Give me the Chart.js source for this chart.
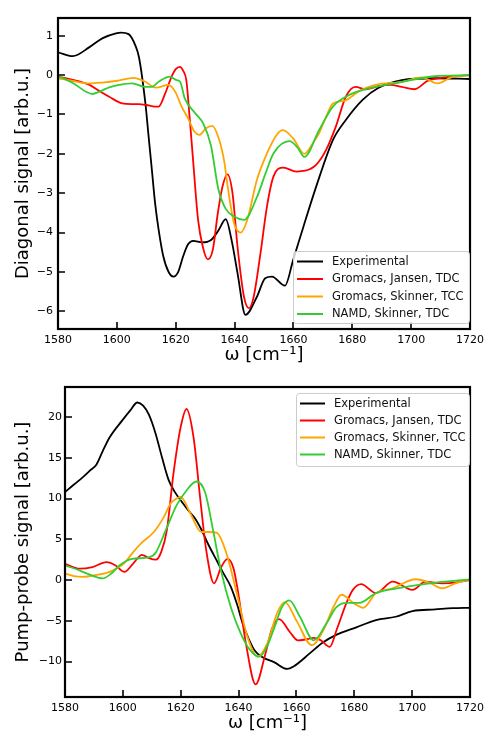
<!DOCTYPE html>
<html>
<head>
<meta charset="utf-8">
<script src="https://cdn.jsdelivr.net/npm/chart.js@4.4.1/dist/chart.umd.min.js"></script>
<style>
html, body { margin: 0; padding: 0; background: #fff; }
#wrap { position: relative; width: 489px; height: 736px; }
.panel { position: absolute; left: 0; width: 489px; height: 368px; }
</style>
</head>
<body>
<div id="wrap">
  <div class="panel" style="top:0"><canvas id="diag" width="489" height="368"></canvas></div>
  <div class="panel" style="top:368px"><canvas id="pp" width="489" height="368"></canvas></div>
</div>
<script>
// series names + colours
const seriesNames = ['Experimental', 'Gromacs, Jansen, TDC', 'Gromacs, Skinner, TCC', 'NAMD, Skinner, TDC'];
const seriesColors = ['#000000', '#ff0000', '#ffa500', '#32cd32'];

// tick labels
const xTicks = [1580, 1600, 1620, 1640, 1660, 1680, 1700, 1720];
const diagTicks = [-6, -5, -4, -3, -2, -1, 0, 1];
const ppTicks = [-10, -5, 0, 5, 10, 15, 20];

// ---- diagonal signal (top) ----
const diagExpX = [1580,1585,1590.7,1595.2,1599.7,1601.4,1604,1606.3,1607.5,1609.7,1610.8,1611.9,1613,1614.2,1615.8,1617.5,1619.2,1620.9,1622.5,1624.2,1626,1629,1632,1634.5,1637,1639,1641,1643.7,1647.6,1650.4,1652.7,1657.1,1659.9,1663.4,1667.7,1673.4,1677.8,1683.5,1688.8,1696.8,1708,1720];
const diagExpY = [0.58,0.48,0.71,0.94,1.06,1.08,1.04,0.75,0.46,-0.72,-1.57,-2.41,-3.26,-3.93,-4.61,-4.99,-5.12,-4.99,-4.61,-4.3,-4.21,-4.25,-4.19,-3.95,-3.66,-4.2,-5.03,-6.09,-5.63,-5.16,-5.12,-5.35,-4.7,-3.85,-2.84,-1.65,-1.14,-0.63,-0.33,-0.13,-0.08,-0.1];

const diagJanX = [1580,1585,1590.7,1594,1597.4,1601.8,1605,1607.5,1610,1613,1614.2,1616.4,1618.6,1620,1621.4,1622.6,1623.6,1624.8,1625.9,1627.6,1629.2,1630.9,1632.6,1634.3,1635.9,1637.6,1639.3,1641,1643.2,1644.9,1646.5,1648.8,1651,1653.2,1656.6,1661,1664,1667.7,1671.1,1674.4,1677.8,1681.1,1684.5,1689,1693,1696.8,1701.2,1705.7,1710.2,1715,1720];
const diagJanY = [-0.04,-0.12,-0.25,-0.4,-0.55,-0.72,-0.74,-0.74,-0.76,-0.8,-0.8,-0.47,-0.04,0.15,0.21,0.1,-0.13,-1.14,-2.16,-3.68,-4.36,-4.68,-4.44,-3.51,-2.83,-2.52,-3.0,-4.36,-5.63,-5.92,-5.63,-4.53,-3.34,-2.58,-2.35,-2.45,-2.43,-2.28,-1.9,-1.31,-0.55,-0.3,-0.36,-0.28,-0.25,-0.3,-0.36,-0.14,-0.07,-0.03,0];

const diagSkiX = [1580,1585,1590.7,1595,1599.7,1603,1605.5,1607.5,1609.7,1613.3,1617.5,1619.8,1622,1624.2,1626.4,1628,1630.3,1632.4,1634.8,1636.5,1637.6,1639.8,1642.1,1644.3,1647.6,1651,1654.3,1656.4,1659.9,1663.7,1666.6,1668.7,1671.1,1673.4,1677.8,1682,1687.8,1697,1703.5,1709,1713.6,1720];
const diagSkiY = [-0.08,-0.15,-0.21,-0.19,-0.15,-0.1,-0.07,-0.1,-0.17,-0.32,-0.25,-0.42,-0.8,-1.1,-1.44,-1.52,-1.35,-1.29,-1.65,-2.2,-2.8,-3.76,-4.0,-3.68,-2.66,-1.99,-1.52,-1.4,-1.61,-2.0,-1.73,-1.48,-1.06,-0.72,-0.64,-0.42,-0.25,-0.17,-0.06,-0.21,-0.06,0];

const diagNamX = [1580,1585,1591.7,1594.1,1597.4,1600.8,1605.2,1609.7,1611.9,1614.2,1618,1620.3,1621.5,1623.1,1626.4,1629.5,1632,1634.5,1637,1640,1643.2,1647.6,1650.5,1653.3,1658.7,1661.5,1663.7,1668.7,1673.4,1678.8,1685.5,1697,1708,1720];
const diagNamY = [-0.02,-0.2,-0.48,-0.42,-0.31,-0.25,-0.21,-0.3,-0.3,-0.17,-0.04,-0.13,-0.17,-0.6,-0.95,-1.25,-1.8,-2.9,-3.4,-3.6,-3.68,-3.1,-2.5,-1.98,-1.68,-1.85,-2.08,-1.4,-0.8,-0.51,-0.34,-0.17,-0.03,0];

// ---- pump-probe signal (bottom) ----
const ppExpX = [1580,1583,1586.1,1588.5,1590.9,1593,1595.4,1599.8,1602.5,1605,1607,1609,1611.3,1613.5,1615.8,1618,1620.4,1622.5,1624.9,1627,1629.5,1632.9,1634.5,1637.3,1639.5,1641.4,1643.5,1645.5,1648,1652.4,1656.8,1659,1664.6,1669,1673.9,1680.7,1687.5,1694.3,1700.1,1708,1714,1720];
const ppExpY = [10.8,11.7,12.6,13.4,14.2,15.8,17.5,19.6,20.8,21.8,21.4,20.3,18.0,15.1,12.3,10.8,9.6,8.6,7.6,6.3,4.4,2.1,1.0,-0.8,-3.0,-5.3,-7.2,-8.6,-9.4,-10.1,-10.9,-10.6,-9.0,-7.7,-6.7,-5.8,-4.9,-4.5,-3.8,-3.6,-3.45,-3.4];

const ppJanX = [1580,1585,1589.5,1594.3,1597.5,1600.5,1603.5,1606.6,1609,1611.4,1613.3,1615.2,1617.5,1620,1622,1624.4,1626.8,1628.8,1631.5,1634,1636.2,1638.2,1639.7,1642.5,1645.9,1649.3,1651.5,1654,1657.8,1660.5,1663,1666,1668.5,1671.5,1674,1677.3,1679.5,1682.4,1687.5,1693.3,1700.1,1704.6,1710.4,1715,1720];
const ppJanY = [2.0,1.4,1.6,2.2,1.8,1.0,2.0,3.1,2.7,2.5,3.5,6.1,13.1,18.8,21.0,17.6,9.8,3.7,-0.4,1.6,2.6,1.5,-1.2,-7.7,-12.8,-9.0,-6.0,-4.8,-6.4,-7.4,-7.3,-7.1,-7.4,-8.2,-6.0,-2.8,-1.2,-0.5,-1.6,-0.2,-1.2,-0.2,-0.4,-0.3,0];

const ppSkiX = [1580,1583,1586.2,1590.5,1595.4,1600.5,1603.5,1606.3,1610.7,1614.1,1616.5,1618.5,1620,1623.3,1627.1,1630,1632.5,1635.8,1639.7,1643.1,1646.6,1650,1653.4,1656,1660.2,1665.3,1669.4,1672.8,1675.6,1679.7,1683.1,1687.5,1693.3,1701.2,1706,1710.4,1715,1720];
const ppSkiY = [0.8,0.5,0.4,0.6,1.0,2.1,3.4,4.5,5.9,7.7,9.4,10.0,10.2,8.2,5.9,5.9,5.8,3.3,-2.1,-7.0,-9.4,-7.7,-4.0,-2.7,-5.1,-8.0,-6.1,-3.3,-1.8,-2.8,-3.4,-1.6,-1.0,0.1,-0.3,-1.0,-0.4,0.1];

const ppNamX = [1580,1585,1589,1593,1596,1598.8,1603.2,1609,1611.4,1614.8,1618.6,1622,1625.4,1628.5,1631.2,1633.9,1637.3,1640.7,1644,1647.2,1650,1652.4,1655,1657.5,1661.2,1666,1670.4,1673.9,1677.3,1681.7,1687.5,1696.7,1708,1720];
const ppNamY = [1.8,1.2,0.6,0.2,0.8,1.8,2.6,2.8,3.4,6.1,9.2,11.0,12.1,10.7,6.1,1.2,-3.3,-6.5,-8.6,-9.4,-8.0,-5.8,-3.3,-2.5,-4.5,-7.4,-5.3,-3.3,-2.8,-2.8,-1.6,-0.9,-0.3,0.1];

const FONT = 'DejaVu Sans';

function pts(xs, ys) {
  return xs.map((x, i) => ({ x: x, y: ys[i] }));
}

function makeSets(list) {
  return list.map((s, i) => ({
    label: seriesNames[i],
    data: pts(s[0], s[1]),
    borderColor: seriesColors[i],
    backgroundColor: seriesColors[i],
    borderWidth: 1.8,
    pointRadius: 0,
    cubicInterpolationMode: 'monotone',
    fill: false,
    order: list.length - i
  }));
}

// frame around the plot + inward ticks like matplotlib
const frameTicks = {
  id: 'frameTicks',
  afterDatasetsDraw(chart) {
    const ctx = chart.ctx, a = chart.chartArea, sx = chart.scales.x, sy = chart.scales.y;
    ctx.save();
    ctx.strokeStyle = '#000';
    ctx.lineWidth = 1.6;
    ctx.beginPath();
    sx.ticks.forEach(t => {
      const px = Math.round(sx.getPixelForValue(t.value));
      ctx.moveTo(px, a.bottom); ctx.lineTo(px, a.bottom - 7);
    });
    sy.ticks.forEach(t => {
      const py = Math.round(sy.getPixelForValue(t.value));
      ctx.moveTo(a.left, py); ctx.lineTo(a.left + 7, py);
    });
    ctx.stroke();
    ctx.lineWidth = 2.2;
    ctx.strokeRect(a.left, a.top, a.right - a.left, a.bottom - a.top);
    ctx.restore();
  }
};

// legend box placed inside the plot area
const boxLegend = {
  id: 'boxLegend',
  afterDraw(chart, args, o) {
    const ctx = chart.ctx;
    ctx.save();
    ctx.fillStyle = 'rgba(255,255,255,0.8)';
    ctx.strokeStyle = '#cccccc';
    ctx.lineWidth = 1;
    ctx.beginPath();
    ctx.roundRect(o.x + 0.5, o.y + 0.5, o.w, o.h, 3);
    ctx.fill();
    ctx.stroke();
    ctx.font = '11.5px "' + FONT + '"';
    ctx.textBaseline = 'middle';
    chart.data.datasets.forEach((ds, i) => {
      const yy = o.y + o.first + i * o.row;
      ctx.strokeStyle = ds.borderColor;
      ctx.lineWidth = 2;
      ctx.beginPath();
      ctx.moveTo(o.x + o.l0, yy); ctx.lineTo(o.x + o.l1, yy);
      ctx.stroke();
      ctx.fillStyle = '#111';
      ctx.fillText(ds.label, o.x + o.tx, yy + 0.5);
    });
    ctx.restore();
  }
};

function makeChart(id, sets, yMin, yMax, yTickList, yTitle, leftW, tickPad, legend) {
  return new Chart(document.getElementById(id), {
    type: 'line',
    data: { datasets: makeSets(sets) },
    options: {
      responsive: false,
      animation: false,
      devicePixelRatio: 1,
      layout: { padding: { top: legend.top, right: legend.right, left: 0, bottom: 0 } },
      plugins: {
        legend: { display: false },
        tooltip: { enabled: false },
        boxLegend: legend.box
      },
      scales: {
        x: {
          type: 'linear',
          min: 1580, max: 1720,
          grid: { display: false, drawTicks: false },
          border: { display: false },
          afterBuildTicks: s => { s.ticks = xTicks.map(v => ({ value: v })); },
          afterFit: s => { s.height = 368 - 329; },
          ticks: { color: '#000', padding: 5, maxRotation: 0, font: { family: FONT, size: 11 },
            callback: v => String(v) },
          title: { display: true, text: 'ω [cm⁻¹]', color: '#000', padding: { top: 0, bottom: 2 }, font: { family: FONT, size: 18 } }
        },
        y: {
          type: 'linear',
          min: yMin, max: yMax,
          grid: { display: false, drawTicks: false },
          border: { display: false },
          afterBuildTicks: s => { s.ticks = yTickList.map(v => ({ value: v })); },
          afterFit: s => { s.width = leftW; },
          ticks: {
            color: '#000', padding: tickPad, font: { family: FONT, size: 11 },
            callback: v => String(v).replace('-', '\u2212')
          },
          title: { display: true, text: yTitle, color: '#000', padding: { top: 13, bottom: 0 }, font: { family: FONT, size: 18 } }
        }
      }
    },
    plugins: [frameTicks, boxLegend]
  });
}

makeChart('diag',
  [[diagExpX, diagExpY], [diagJanX, diagJanY], [diagSkiX, diagSkiY], [diagNamX, diagNamY]],
  -6.45, 1.45, diagTicks, 'Diagonal signal [arb.u.]', 58, 5,
  { top: 18, right: 13, box: { x: 293, y: 251, w: 176, h: 72, first: 10.5, row: 17.5, l0: 4, l1: 30, tx: 39 } });

makeChart('pp',
  [[ppExpX, ppExpY], [ppJanX, ppJanY], [ppSkiX, ppSkiY], [ppNamX, ppNamY]],
  -14.35, 23.7, ppTicks, 'Pump-probe signal [arb.u.]', 65, 3,
  { top: 19, right: 14, box: { x: 296, y: 25, w: 173, h: 73, first: 10.5, row: 17, l0: 4, l1: 29, tx: 38 } });
</script>
</body>
</html>
